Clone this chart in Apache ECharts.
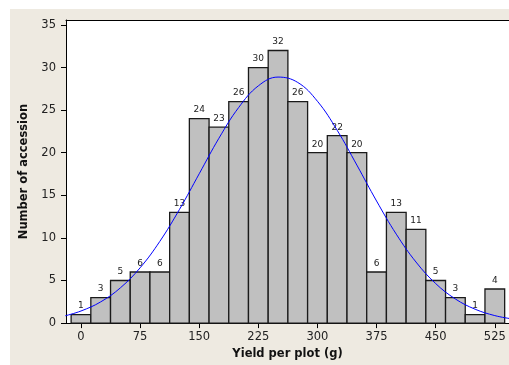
<!DOCTYPE html>
<html><head><meta charset="utf-8">
<script src="https://cdn.jsdelivr.net/npm/echarts@6/dist/echarts.min.js"></script>
<style>html,body{margin:0;padding:0;background:#fff}#c{width:509px;height:365px}</style>
</head><body><div id="c"></div>
<script>
const binCenters = [0,25,50,75,100,125,150,175,200,225,250,275,300,325,350,375,400,425,450,475,500,525];
const counts = [1,3,5,6,6,13,24,23,26,30,32,26,20,22,20,6,13,11,5,3,1,4];
const curveX = [-20,0,25,50,75,100,125,150,175,200,225,250,275,300,325,350,375,400,425,450,475,500,525,545];
const curveY = [0.86,1.42,2.49,4.14,6.49,9.59,13.35,17.53,21.7,25.3,27.85,28.88,28.25,26.04,22.64,18.55,14.33,10.44,7.17,4.64,2.83,1.63,0.88,0.52];
const xTicks = [0,75,150,225,300,375,450,525];
const yTicks = [0,5,10,15,20,25,30,35];
const binWidth = 25;
const xTitle = 'Yield per plot (g)';
const yTitle = 'Number of accession';

const FONT = '"DejaVu Sans", Verdana, sans-serif';
const chart = echarts.init(document.getElementById('c'), null, {renderer: 'canvas'});
chart.setOption({
  animation: false,
  backgroundColor: '#ffffff',
  graphic: [{
    type: 'rect', z: -100, silent: true,
    shape: {x: 10, y: 9, width: 499, height: 356},
    style: {fill: '#EEEAE1'}
  }],
  grid: {
    left: 66, top: 20, bottom: 40, right: 0,
    show: true, backgroundColor: '#ffffff', borderWidth: 0
  },
  xAxis: [{
    type: 'value', min: -19, max: 543,
    splitLine: {show: false},
    axisLine: {show: true, onZero: false, lineStyle: {color: '#000', width: 1}},
    axisTick: {show: true, length: 5, lineStyle: {color: '#000'}, customValues: xTicks},
    axisLabel: {customValues: xTicks, margin: 8, color: '#222', fontSize: 11.5, fontFamily: FONT},
    name: xTitle, nameLocation: 'middle', nameGap: 24,
    nameTextStyle: {fontWeight: 'bold', fontSize: 11.5, color: '#111', fontFamily: FONT}
  }, {
    type: 'value', position: 'top', min: -19, max: 543,
    splitLine: {show: false},
    axisLine: {show: true, onZero: false, lineStyle: {color: '#000', width: 1}},
    axisTick: {show: false}, axisLabel: {show: false}
  }],
  yAxis: {
    type: 'value', min: 0, max: 35.58,
    splitLine: {show: false},
    axisLine: {show: true, onZero: false, lineStyle: {color: '#000', width: 1}},
    axisTick: {show: true, length: 5, lineStyle: {color: '#000'}, customValues: yTicks},
    axisLabel: {customValues: yTicks, margin: 10, color: '#222', fontSize: 11.5, fontFamily: FONT},
    name: yTitle, nameLocation: 'middle', nameGap: 33, nameRotate: 90,
    nameTextStyle: {fontWeight: 'bold', fontSize: 11.5, color: '#111', fontFamily: FONT}
  },
  series: [{
    type: 'custom',
    data: binCenters.map((c, i) => [c, counts[i]]),
    renderItem: function (params, api) {
      const c = api.value(0), v = api.value(1);
      const p0 = api.coord([c - binWidth / 2, v]);
      const p1 = api.coord([c + binWidth / 2, 0]);
      return {
        type: 'group',
        children: [{
          type: 'rect',
          shape: {x: p0[0], y: p0[1], width: p1[0] - p0[0], height: p1[1] - p0[1]},
          style: {fill: '#C0C0C0', stroke: '#1a1a1a', lineWidth: 1.3}
        }, {
          type: 'text',
          style: {
            text: String(v), x: (p0[0] + p1[0]) / 2, y: p0[1] - 4,
            align: 'center', verticalAlign: 'bottom',
            fill: '#222', font: '9px ' + FONT
          }
        }]
      };
    },
    z: 2
  }, {
    type: 'line',
    data: curveX.map((x, i) => [x, curveY[i]]),
    smooth: 0.4,
    showSymbol: false,
    lineStyle: {color: '#0000FF', width: 1},
    z: 5
  }]
});
</script>
</body></html>
